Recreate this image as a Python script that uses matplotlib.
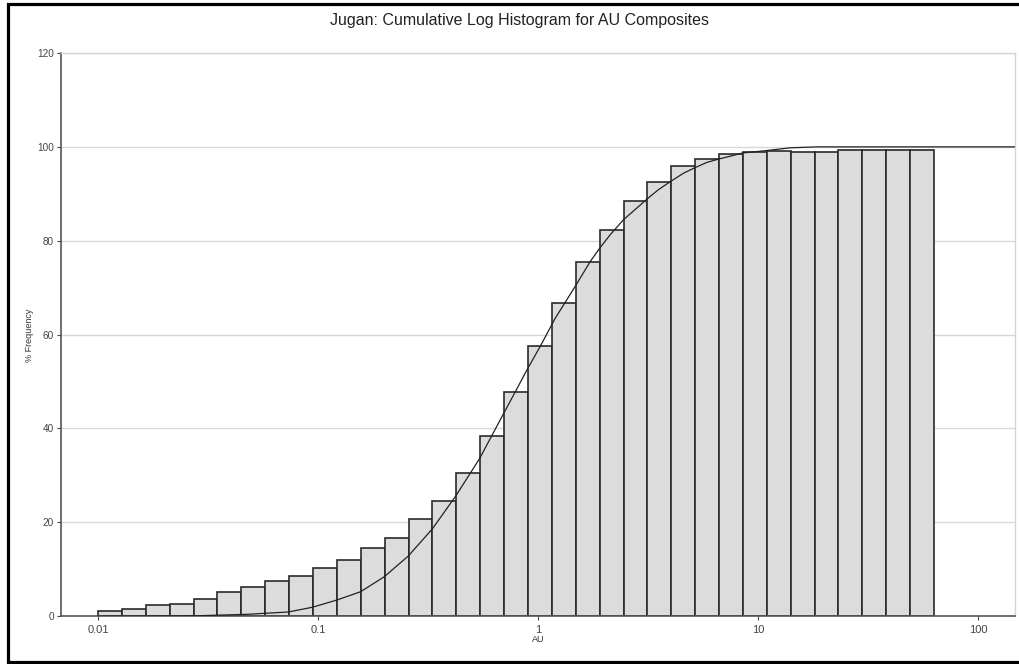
import numpy as np
import matplotlib
matplotlib.use("Agg")
from matplotlib import pyplot as plt
from matplotlib.lines import Line2D
from matplotlib.ticker import FixedLocator, NullLocator

plt.rcParams['font.family'] = ['Liberation Sans', 'DejaVu Sans']

# log bins: start at 0.01, each bin 0.25 wide in ln(AU)
bin_start = 0.01
bin_step_ln = 0.25
n_bins = 35

# cumulative % per bin
cum_freq = [1.2, 1.5, 2.4, 2.5, 3.6, 5.1, 6.3, 7.6, 8.6, 10.3,
            12.0, 14.6, 16.7, 20.8, 24.5, 30.5, 38.3, 47.8, 57.5, 66.7,
            75.5, 82.2, 88.4, 92.5, 95.9, 97.4, 98.5, 99.0, 99.2, 99.0,
            99.0, 99.3, 99.3, 99.3, 99.3]

# fitted cumulative curve (AU, %)
curve_au = [0.01, 0.0283, 0.0477, 0.0733, 0.0942, 0.121, 0.156, 0.200, 0.257,
            0.331, 0.424, 0.543, 0.698, 0.803, 0.891, 1.024, 1.198, 1.477,
            1.729, 1.920, 2.131, 2.449, 2.818, 3.131, 3.532, 3.995,
            4.590, 5.135, 5.862, 6.622, 7.745, 8.51, 10.87, 14.02, 18.6, 147]
curve_pct = [0.0, 0.1, 0.4, 0.9, 1.9, 3.4, 5.2, 8.4, 12.8,
             18.6, 25.7, 33.6, 43.2, 48.5, 52.5, 57.5, 63.5, 70.3,
             75.6, 78.6, 81.3, 84.5, 87.0, 88.9, 90.9, 92.6,
             94.4, 95.5, 96.7, 97.4, 98.2, 98.7, 99.2, 99.8, 100.0, 100.0]

y_ticks = [0, 20, 40, 60, 80, 100, 120]
x_ticks = [0.01, 0.1, 1, 10, 100]
x_tick_labels = ['0.01', '0.1', '1', '10', '100']

edges = bin_start * np.exp(bin_step_ln * np.arange(n_bins + 1))

fig = plt.figure(figsize=(10.2, 6.64), dpi=100)
ax = fig.add_axes([61 / 1020, 1 - 616.2 / 664, 954 / 1020, 563.2 / 664])

ax.set_xscale('log')
ax.set_xlim(10 ** -2.168, 10 ** 2.168)
ax.set_ylim(0, 120)

# horizontal grid
for yv in y_ticks[1:]:
    ax.axhline(yv, color='#d9d9d9', lw=1.0, zorder=0)

ax.bar(edges[:-1], cum_freq, width=np.diff(edges), align='edge',
       color='#dcdcdc', edgecolor='#2a2a2a', linewidth=1.2, zorder=2)

ax.plot(curve_au, curve_pct, color='#222222', lw=0.9, zorder=3)

ax.xaxis.set_major_locator(FixedLocator(x_ticks))
ax.xaxis.set_minor_locator(NullLocator())
ax.set_xticklabels(x_tick_labels)
ax.set_yticks(y_ticks)
ax.tick_params(axis='both', labelsize=7.2, colors='#444444', length=3,
               width=0.8, pad=2)
ax.tick_params(axis='x', labelsize=8, pad=3)

for side in ['top', 'right']:
    ax.spines[side].set_color('#d4d4d4')
    ax.spines[side].set_linewidth(1.0)
for side in ['left', 'bottom']:
    ax.spines[side].set_color('#555555')
    ax.spines[side].set_linewidth(1.2)

fig.text(520 / 1020, 1 - 21 / 664, 'Jugan: Cumulative Log Histogram for AU Composites',
         ha='center', va='center', fontsize=11.5, color='#222222')
fig.text(538 / 1020, 1 - 640 / 664, 'AU', ha='center', va='center',
         fontsize=6.5, color='#333333')
fig.text(30 / 1020, 1 - 335 / 664, '% Frequency', ha='center', va='center',
         rotation=90, fontsize=6.5, color='#333333')

# outer black frame
W, H = 1020, 664
fig.add_artist(Line2D([1.01, 8.5 / W, 8.5 / W, 1.01],
                      [1 - 3.5 / H, 1 - 3.5 / H, 1 - 662 / H, 1 - 662 / H],
                      transform=fig.transFigure, color='black', lw=2.3,
                      solid_joinstyle='miter'))

fig.savefig('out.png', dpi=100)
